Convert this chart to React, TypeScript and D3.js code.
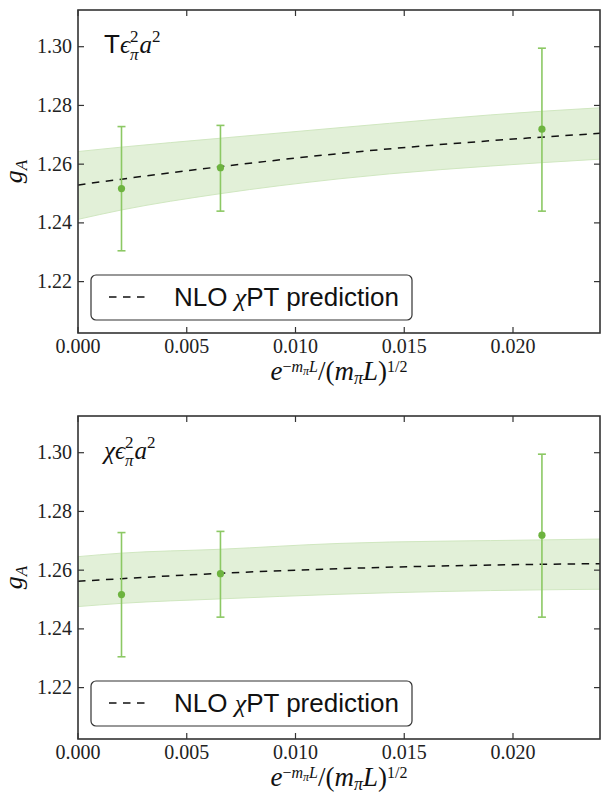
import * as d3 from 'd3'

// measured points (same in both panels)
const xPts = [0.002, 0.00655, 0.02133]
const gA = [1.2517, 1.2588, 1.2719]
const gALo = [1.2305, 1.244, 1.244]
const gAHi = [1.2728, 1.2732, 1.2995]

// fit curves
const curveX = [0, 0.002, 0.0065, 0.012, 0.0213, 0.024]
const topMid = [1.2529, 1.2549, 1.2591, 1.2636, 1.2692, 1.2705]
const topHi = [1.2643, 1.2658, 1.2688, 1.2724, 1.278, 1.2792]
const topLo = [1.2412, 1.2444, 1.2499, 1.255, 1.2605, 1.2617]
const botMid = [1.2562, 1.2571, 1.2589, 1.2605, 1.262, 1.2622]
const botHi = [1.2646, 1.2658, 1.2671, 1.2691, 1.2703, 1.2706]
const botLo = [1.2476, 1.2487, 1.2502, 1.2518, 1.2533, 1.2535]

const xTicks = [0, 0.005, 0.01, 0.015, 0.02]
const yTicks = [1.22, 1.24, 1.26, 1.28, 1.3]
const legendLabel = 'prediction'

const serifFam = "'Liberation Serif', 'DejaVu Serif', serif"
const serif = { fontFamily: serifFam }
const serifIt = { fontFamily: serifFam, fontStyle: 'italic' }
const sans = { fontFamily: "'Liberation Sans', Arial, sans-serif" }
const spine = '#333'
const green = '#6db33f'
const errGreen = '#8cc864'

function Panel({ top, mid, hi, lo, title }: any) {
  const left = 78
  const right = 600
  const bottom = top + 323
  const x = d3.scaleLinear().domain([0, 0.024]).range([left, right])
  const y = d3.scaleLinear().domain([1.2025, 1.3125]).range([bottom, top])

  const idx = curveX.map((_, i) => i)
  const area = d3.area<number>()
    .x(i => x(curveX[i]))
    .y0(i => y(lo[i]))
    .y1(i => y(hi[i]))
    .curve(d3.curveMonotoneX)
  const line = d3.line<number>()
    .x(i => x(curveX[i]))
    .y(i => y(mid[i]))
    .curve(d3.curveMonotoneX)
  const edgeHi = d3.line<number>().x(i => x(curveX[i])).y(i => y(hi[i])).curve(d3.curveMonotoneX)
  const edgeLo = d3.line<number>().x(i => x(curveX[i])).y(i => y(lo[i])).curve(d3.curveMonotoneX)

  const cy = (top + bottom) / 2
  const legY = bottom - 58

  return (
    <g>
      <defs>
        <clipPath id={`clip${top}`}>
          <rect x={left} y={top} width={right - left} height={bottom - top} />
        </clipPath>
      </defs>
      <g clipPath={`url(#clip${top})`}>
        <path d={area(idx) || ''} fill="#e2f0d8" />
        <path d={edgeHi(idx) || ''} fill="none" stroke="#d0e7c0" strokeWidth={1} />
        <path d={edgeLo(idx) || ''} fill="none" stroke="#d0e7c0" strokeWidth={1} />
        <path d={line(idx) || ''} fill="none" stroke="#111" strokeWidth={1.5} strokeDasharray="7.5,6.5" />
        {xPts.map((v, i) => (
          <g key={i}>
            <line x1={x(v)} x2={x(v)} y1={y(gALo[i])} y2={y(gAHi[i])} stroke={errGreen} strokeWidth={1.6} />
            <line x1={x(v) - 4} x2={x(v) + 4} y1={y(gALo[i])} y2={y(gALo[i])} stroke={errGreen} strokeWidth={1.6} />
            <line x1={x(v) - 4} x2={x(v) + 4} y1={y(gAHi[i])} y2={y(gAHi[i])} stroke={errGreen} strokeWidth={1.6} />
            <circle cx={x(v)} cy={y(gA[i])} r={3.6} fill={green} />
          </g>
        ))}
      </g>

      {/* ticks */}
      {xTicks.map(t => (
        <g key={'x' + t}>
          <line x1={x(t)} x2={x(t)} y1={bottom} y2={bottom - 6} stroke={spine} strokeWidth={1.2} />
          <line x1={x(t)} x2={x(t)} y1={top} y2={top + 6} stroke={spine} strokeWidth={1.2} />
          <text x={x(t)} y={bottom + 20} textAnchor="middle" style={serif} fontSize={20} fill="#222">
            {d3.format('.3f')(t)}
          </text>
        </g>
      ))}
      {yTicks.map(t => (
        <g key={'y' + t}>
          <line x1={left} x2={left + 6} y1={y(t)} y2={y(t)} stroke={spine} strokeWidth={1.2} />
          <line x1={right} x2={right - 6} y1={y(t)} y2={y(t)} stroke={spine} strokeWidth={1.2} />
          <text x={72} y={y(t) + 6.5} textAnchor="end" style={serif} fontSize={20} fill="#222">
            {d3.format('.2f')(t)}
          </text>
        </g>
      ))}
      <rect x={left} y={top} width={right - left} height={bottom - top} fill="none" stroke={spine} strokeWidth={1.6} />

      {/* title */}
      <text x={104} y={top + 43} style={serif} fontSize={25} fill="#111">
        {title === 'T'
          ? <tspan style={sans} fontSize={26}>T</tspan>
          : <tspan style={serifIt}>χ</tspan>}
        <tspan style={serifIt}>ϵ</tspan>
        <tspan fontSize={17} dy={-11}>2</tspan>
        <tspan fontSize={17} style={serifIt} dx={-8.5} dy={18}>π</tspan>
        <tspan style={serifIt} dx={1} dy={-7}>a</tspan>
        <tspan fontSize={17} dy={-11}>2</tspan>
      </text>

      {/* legend */}
      <rect x={91} y={legY} width={321} height={45} rx={5} fill="#fff" stroke={spine} strokeWidth={1.2} />
      <line x1={109} x2={147} y1={legY + 22} y2={legY + 22} stroke="#111" strokeWidth={1.5} strokeDasharray="7.5,6.5" />
      <text x={174} y={legY + 31} style={sans} fontSize={26} fill="#111">
        NLO <tspan style={serifIt}>χ</tspan>PT {legendLabel}
      </text>

      {/* axis labels */}
      <text x={339} y={bottom + 47} textAnchor="middle" style={serif} fontSize={27} fill="#111">
        <tspan style={serifIt}>e</tspan>
        <tspan fontSize={16} dy={-8}>−</tspan>
        <tspan fontSize={16} style={serifIt}>m</tspan>
        <tspan fontSize={12} style={serifIt} dy={3}>π</tspan>
        <tspan fontSize={16} style={serifIt} dy={-3}>L</tspan>
        <tspan dy={8}>/(</tspan>
        <tspan style={serifIt}>m</tspan>
        <tspan fontSize={18} style={serifIt} dy={4}>π</tspan>
        <tspan style={serifIt} dy={-4}>L</tspan>
        <tspan>)</tspan>
        <tspan fontSize={16} dy={-8}>1/2</tspan>
      </text>
      <text transform={`translate(22,${cy}) rotate(-90)`} textAnchor="middle" style={serif} fontSize={26} fill="#111">
        <tspan style={serifIt}>g</tspan>
        <tspan fontSize={17} style={serifIt} dy={5}>A</tspan>
      </text>
    </g>
  )
}

export default function App() {
  return (
    <svg width={601} height={793} style={{ position: 'absolute', left: 0, top: 0, background: '#fff' }}>
      <Panel top={10} mid={topMid} hi={topHi} lo={topLo} title="T" />
      <Panel top={416} mid={botMid} hi={botHi} lo={botLo} title="chi" />
    </svg>
  )
}
